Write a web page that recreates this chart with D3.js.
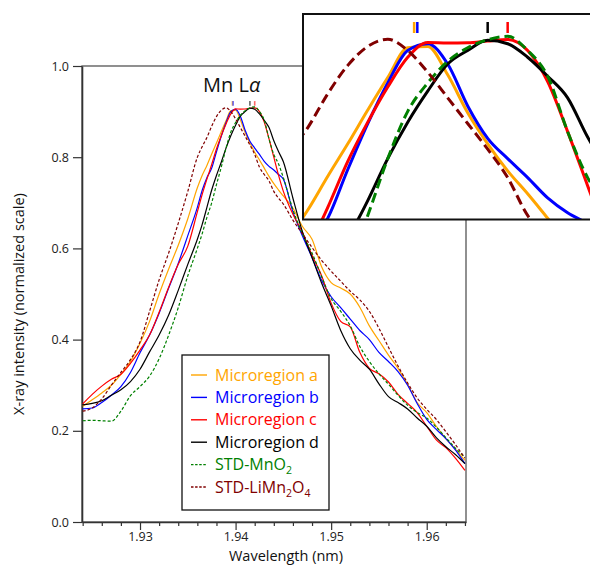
<!DOCTYPE html>
<html>
<head>
<meta charset="utf-8">
<script src="https://cdn.jsdelivr.net/npm/d3@7"></script>
<style>
  body { margin: 0; background: #fff; }
  text { font-family: "Open Sans", sans-serif; }
</style>
</head>
<body>
<div id="chart"></div>
<script>
// wavelength grid (nm), finer around the peak
var wavelength = [1.924, 1.925, 1.926, 1.927, 1.928, 1.929, 1.930, 1.931, 1.932, 1.933, 1.934, 1.935, 1.936,
  1.9365, 1.937, 1.9375, 1.938, 1.9385, 1.939, 1.9395, 1.940, 1.9405, 1.941, 1.9415, 1.942, 1.9425, 1.943, 1.9435, 1.944, 1.9445,
  1.945, 1.946, 1.947, 1.948, 1.949, 1.950, 1.951, 1.952, 1.953, 1.954, 1.955, 1.956, 1.957, 1.958, 1.959, 1.960, 1.961, 1.962, 1.963, 1.964];

var regionA = [0.254, 0.268, 0.283, 0.300, 0.324, 0.352, 0.392, 0.44, 0.50, 0.555, 0.607, 0.665, 0.733,
  0.760, 0.782, 0.807, 0.831, 0.856, 0.880, 0.902, 0.903, 0.882, 0.854, 0.831, 0.811, 0.794, 0.776, 0.758, 0.742, 0.728,
  0.715, 0.688, 0.648, 0.62, 0.56, 0.525, 0.513, 0.50, 0.471, 0.43, 0.398, 0.366, 0.337, 0.302, 0.262, 0.24, 0.21, 0.183, 0.16, 0.135];

var regionB = [0.248, 0.250, 0.262, 0.278, 0.297, 0.328, 0.371, 0.41, 0.458, 0.513, 0.567, 0.628, 0.69,
  0.727, 0.755, 0.776, 0.812, 0.846, 0.876, 0.900, 0.905, 0.890, 0.859, 0.835, 0.820, 0.806, 0.791, 0.780, 0.772, 0.762,
  0.752, 0.68, 0.627, 0.58, 0.53, 0.494, 0.47, 0.445, 0.42, 0.40, 0.372, 0.352, 0.33, 0.30, 0.26, 0.225, 0.203, 0.183, 0.158, 0.128];

var regionC = [0.259, 0.28, 0.298, 0.313, 0.324, 0.348, 0.377, 0.41, 0.46, 0.515, 0.565, 0.605, 0.68,
  0.718, 0.752, 0.784, 0.818, 0.847, 0.873, 0.895, 0.906, 0.9055, 0.9057, 0.907, 0.9082, 0.900, 0.877, 0.840, 0.80, 0.76,
  0.725, 0.675, 0.635, 0.585, 0.54, 0.48, 0.44, 0.428, 0.372, 0.337, 0.325, 0.307, 0.28, 0.26, 0.24, 0.21, 0.18, 0.163, 0.14, 0.113];

var regionD = [0.257, 0.26, 0.266, 0.278, 0.29, 0.308, 0.335, 0.373, 0.41, 0.454, 0.508, 0.565, 0.62,
  0.652, 0.69, 0.728, 0.760, 0.789, 0.820, 0.847, 0.870, 0.890, 0.900, 0.9075, 0.905, 0.895, 0.881, 0.865, 0.836, 0.812,
  0.79, 0.71, 0.636, 0.58, 0.524, 0.474, 0.42, 0.38, 0.355, 0.335, 0.303, 0.275, 0.262, 0.248, 0.228, 0.21, 0.185, 0.165, 0.148, 0.128];

var stdMnO2 = [0.222, 0.223, 0.222, 0.221, 0.243, 0.277, 0.297, 0.32, 0.358, 0.41, 0.47, 0.54, 0.60,
  0.632, 0.668, 0.70, 0.740, 0.778, 0.820, 0.855, 0.876, 0.892, 0.902, 0.908, 0.9105, 0.900, 0.881, 0.840, 0.806, 0.785,
  0.755, 0.685, 0.632, 0.59, 0.538, 0.49, 0.462, 0.43, 0.385, 0.352, 0.325, 0.302, 0.278, 0.256, 0.24, 0.228, 0.208, 0.185, 0.162, 0.142];

var stdLiMn2O4 = [0.243, 0.25, 0.27, 0.30, 0.328, 0.356, 0.395, 0.462, 0.531, 0.59, 0.655, 0.725, 0.80,
  0.823, 0.843, 0.868, 0.889, 0.903, 0.9083, 0.900, 0.884, 0.865, 0.846, 0.827, 0.806, 0.778, 0.762, 0.748, 0.725, 0.71,
  0.697, 0.662, 0.632, 0.602, 0.574, 0.55, 0.528, 0.506, 0.487, 0.462, 0.425, 0.383, 0.342, 0.305, 0.272, 0.247, 0.225, 0.198, 0.17, 0.14];

// peak position markers (nm) for microregions a, b, c, d
var peakA = 1.93966, peakB = 1.93974, peakC = 1.9420, peakD = 1.9415;

var xTicks = [1.93, 1.94, 1.95, 1.96];
var yTicks = [0.0, 0.2, 0.4, 0.6, 0.8, 1.0];

var series = [
  { values: regionA, color: "#ffa500", dash: false, label: [["Microregion a", ""]] },
  { values: regionB, color: "#0000ff", dash: false, label: [["Microregion b", ""]] },
  { values: regionC, color: "#ff0000", dash: false, label: [["Microregion c", ""]] },
  { values: regionD, color: "#000000", dash: false, label: [["Microregion d", ""]] },
  { values: stdMnO2, color: "#008000", dash: true, label: [["STD-MnO", ""], ["2", "sub"]] },
  { values: stdLiMn2O4, color: "#800000", dash: true, label: [["STD-LiMn", ""], ["2", "sub"], ["O", ""], ["4", "sub"]] }
];
var peaks = [
  { wl: peakA, color: "#ffa500" },
  { wl: peakB, color: "#0000ff" },
  { wl: peakD, color: "#000000" },
  { wl: peakC, color: "#ff0000" }
];

var svgWidth = 590;
var svgHeight = 565;

var plot = { left: 82, right: 466, top: 66, bottom: 522 };

var svg = d3.select("#chart")
  .append("svg")
  .attr("width", svgWidth)
  .attr("height", svgHeight);

var xScale = d3.scaleLinear()
  .domain([1.92393, 1.96411])
  .range([plot.left, plot.right]);

var yScale = d3.scaleLinear()
  .domain([0, 1])
  .range([plot.bottom, plot.top]);

// main frame
svg.append("rect")
  .attr("x", plot.left)
  .attr("y", plot.top)
  .attr("width", plot.right - plot.left)
  .attr("height", plot.bottom - plot.top)
  .attr("fill", "none")
  .attr("stroke", "#555")
  .attr("stroke-width", 1.3);

svg.append("defs").append("clipPath")
  .attr("id", "mainClip")
  .append("rect")
  .attr("x", plot.left)
  .attr("y", plot.top)
  .attr("width", plot.right - plot.left)
  .attr("height", plot.bottom - plot.top);

// axes
var minorVals = d3.range(962, 983).filter(i => i % 5 !== 0).map(i => i * 0.002);

var bottomMinor = d3.axisBottom(xScale).tickValues(minorVals).tickSize(4).tickSizeOuter(0).tickFormat("");
var bottomAxis = d3.axisBottom(xScale).tickValues(xTicks).tickSize(8).tickSizeOuter(0).tickFormat(d3.format(".2f"));
var leftAxis = d3.axisLeft(yScale).tickValues(yTicks).tickSize(9).tickSizeOuter(0).tickFormat(d3.format(".1f"));

svg.append("g")
  .attr("transform", `translate(0, ${plot.bottom})`)
  .call(bottomMinor)
  .call(g => g.select(".domain").remove())
  .selectAll("line").attr("stroke", "#333").attr("stroke-width", 1.2);

var gx = svg.append("g")
  .attr("transform", `translate(0, ${plot.bottom})`)
  .call(bottomAxis);
gx.select(".domain").attr("stroke", "#333").attr("stroke-width", 1.6);
gx.selectAll("line").attr("stroke", "#333").attr("stroke-width", 1.2);
gx.selectAll("text").attr("font-size", 12.5).attr("fill", "#222").attr("y", 10);

var gy = svg.append("g")
  .attr("transform", `translate(${plot.left}, 0)`)
  .call(leftAxis);
gy.select(".domain").attr("stroke", "#333").attr("stroke-width", 1.6);
gy.selectAll("line").attr("stroke", "#333").attr("stroke-width", 1.2);
gy.selectAll("text").attr("font-size", 12.5).attr("fill", "#222").attr("x", -13);

// axis labels
svg.append("text")
  .attr("transform", `translate(24, ${(plot.top + plot.bottom) / 2 + 10}) rotate(-90)`)
  .attr("text-anchor", "middle")
  .attr("font-size", 14.5)
  .attr("fill", "#111")
  .text("X-ray intensity (normalized scale)");

svg.append("text")
  .attr("x", 286)
  .attr("y", 561)
  .attr("text-anchor", "middle")
  .attr("font-size", 14.5)
  .attr("fill", "#111")
  .text("Wavelength (nm)");

// title
var title = svg.append("text")
  .attr("x", 203)
  .attr("y", 92)
  .attr("font-size", 20)
  .attr("fill", "#111");
title.append("tspan").text("Mn L");
title.append("tspan").attr("font-style", "italic").text("\u03b1");

// main curves
function lineFor(xs, ys) {
  return d3.line()
    .x((d, i) => xs(wavelength[i]))
    .y(d => ys(d))
    .curve(d3.curveMonotoneX);
}

var mainLines = svg.append("g").attr("clip-path", "url(#mainClip)");
series.forEach(function(s) {
  mainLines.append("path")
    .datum(s.values)
    .attr("d", lineFor(xScale, yScale))
    .attr("fill", "none")
    .attr("stroke", s.color)
    .attr("stroke-width", 1.2)
    .attr("stroke-dasharray", s.dash ? "3,2" : null);
});

// peak markers
peaks.forEach(function(p) {
  svg.append("line")
    .attr("x1", xScale(p.wl)).attr("x2", xScale(p.wl))
    .attr("y1", yScale(0.913)).attr("y2", yScale(0.923))
    .attr("stroke", p.color)
    .attr("stroke-opacity", 0.6)
    .attr("stroke-width", 1.6);
});

// legend
var legend = svg.append("g");
legend.append("rect")
  .attr("x", 182).attr("y", 355)
  .attr("width", 147).attr("height", 155)
  .attr("fill", "#fff")
  .attr("stroke", "#111")
  .attr("stroke-width", 1.3);

series.forEach(function(s, i) {
  var yy = 375 + i * 22.4;
  legend.append("line")
    .attr("x1", 191).attr("x2", 207)
    .attr("y1", yy).attr("y2", yy)
    .attr("stroke", s.color)
    .attr("stroke-width", 1.4)
    .attr("stroke-dasharray", s.dash ? "2.5,1.6" : null);
  var t = legend.append("text")
    .attr("x", 215)
    .attr("y", yy + 5.5)
    .attr("font-size", 16)
    .attr("fill", s.color);
  s.label.forEach(function(part) {
    var sp = t.append("tspan").text(part[0]);
    if (part[1] === "sub") {
      sp.attr("font-size", 10.5).attr("dy", 4);
    } else if (t.selectAll("tspan").size() > 1) {
      sp.attr("dy", -4);
    }
  });
});

// inset (zoom on the peak)
var inset = { left: 303, right: 600, top: 14, bottom: 219.5 };

var xInset = d3.scaleLinear()
  .domain([1.93688, 1.94431])
  .range([inset.left, inset.right]);

var yInset = d3.scaleLinear()
  .domain([0.775, 0.927])
  .range([inset.bottom, inset.top]);

svg.select("defs").append("clipPath")
  .attr("id", "insetClip")
  .append("rect")
  .attr("x", inset.left)
  .attr("y", inset.top)
  .attr("width", inset.right - inset.left)
  .attr("height", inset.bottom - inset.top);

svg.append("rect")
  .attr("x", inset.left).attr("y", inset.top)
  .attr("width", inset.right - inset.left)
  .attr("height", inset.bottom - inset.top)
  .attr("fill", "#fff");

var insetLines = svg.append("g").attr("clip-path", "url(#insetClip)");
series.forEach(function(s) {
  insetLines.append("path")
    .datum(s.values)
    .attr("d", lineFor(xInset, yInset))
    .attr("fill", "none")
    .attr("stroke", s.color)
    .attr("stroke-width", 3)
    .attr("stroke-dasharray", s.dash ? "10,5" : null);
});

peaks.forEach(function(p) {
  insetLines.append("line")
    .attr("x1", xInset(p.wl)).attr("x2", xInset(p.wl))
    .attr("y1", yInset(0.913)).attr("y2", yInset(0.921))
    .attr("stroke", p.color)
    .attr("stroke-width", 2.5);
});

svg.append("rect")
  .attr("x", inset.left).attr("y", inset.top)
  .attr("width", inset.right - inset.left)
  .attr("height", inset.bottom - inset.top)
  .attr("fill", "none")
  .attr("stroke", "#111")
  .attr("stroke-width", 2);
</script>
</body>
</html>
